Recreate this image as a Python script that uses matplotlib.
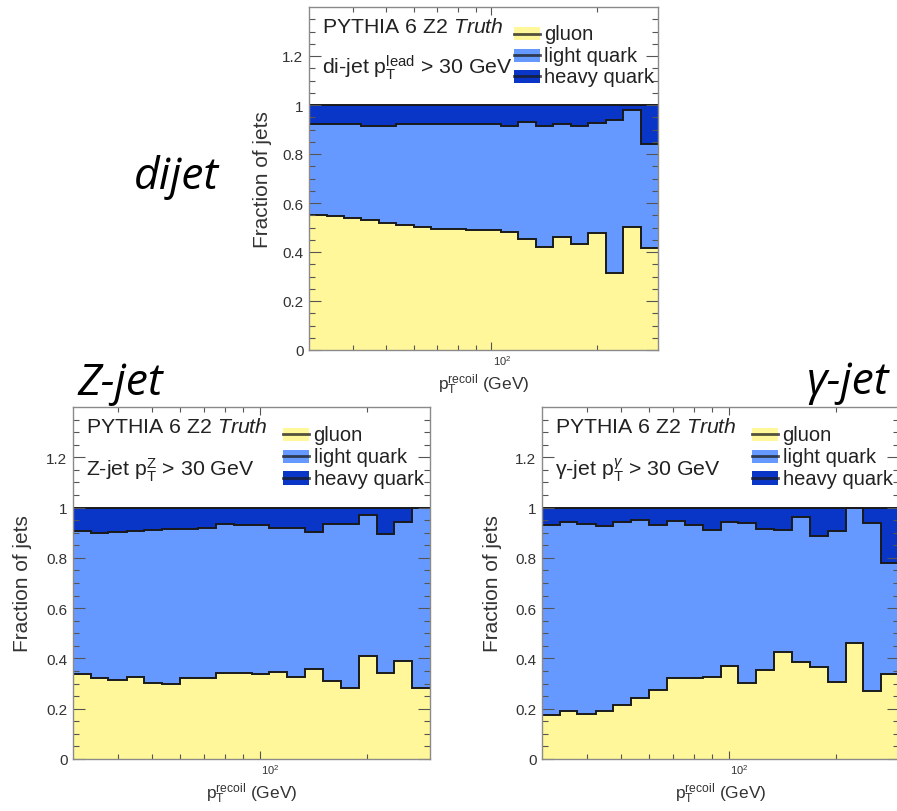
import numpy as np
import matplotlib
matplotlib.use('Agg')
import matplotlib.pyplot as plt
from matplotlib.patches import Rectangle
from matplotlib.lines import Line2D
from matplotlib.ticker import FixedLocator, NullFormatter
import matplotlib.transforms as mtransforms

plt.rcParams['font.family'] = ['Liberation Sans', 'DejaVu Sans']
plt.rcParams['mathtext.fontset'] = 'custom'
plt.rcParams['mathtext.rm'] = 'Liberation Sans'
plt.rcParams['mathtext.it'] = 'Liberation Sans:italic'
plt.rcParams['mathtext.bf'] = 'Liberation Sans:bold'

# ---------------- data ----------------
bin_edges = [30.0, 33.7, 37.7, 42.4, 47.5, 53.3, 59.9, 67.2, 75.4, 84.6, 94.9,
             106.5, 119.5, 134.1, 150.5, 168.9, 189.5, 212.6, 238.6, 267.7, 300.0]

# cumulative stack tops: gluon, gluon+light, gluon+light+heavy (=1)
dijet_gluon = [0.551, 0.547, 0.537, 0.529, 0.520, 0.512, 0.503, 0.493, 0.492, 0.490,
               0.489, 0.480, 0.455, 0.419, 0.462, 0.432, 0.478, 0.314, 0.503, 0.418]
dijet_light = [0.922, 0.922, 0.922, 0.915, 0.915, 0.922, 0.922, 0.922, 0.922, 0.922,
               0.922, 0.913, 0.929, 0.915, 0.922, 0.915, 0.926, 0.939, 0.979, 0.840]

zjet_gluon = [0.337, 0.323, 0.314, 0.327, 0.304, 0.298, 0.321, 0.321, 0.343, 0.343,
              0.340, 0.345, 0.328, 0.356, 0.311, 0.282, 0.409, 0.344, 0.388, 0.282]
zjet_light = [0.906, 0.900, 0.902, 0.907, 0.910, 0.913, 0.915, 0.919, 0.933, 0.929,
              0.929, 0.919, 0.919, 0.903, 0.934, 0.934, 0.972, 0.896, 0.942, 1.000]

gjet_gluon = [0.176, 0.192, 0.179, 0.192, 0.216, 0.242, 0.275, 0.321, 0.321, 0.327,
              0.369, 0.304, 0.353, 0.427, 0.386, 0.364, 0.308, 0.463, 0.269, 0.337]
gjet_light = [0.929, 0.942, 0.933, 0.926, 0.942, 0.952, 0.931, 0.946, 0.929, 0.910,
              0.942, 0.939, 0.915, 0.910, 0.963, 0.886, 0.906, 1.000, 0.937, 0.778]

total = [1.0] * 20

categories = ['gluon', 'light quark', 'heavy quark']
yticks = [0, 0.2, 0.4, 0.6, 0.8, 1.0, 1.2]
ytick_labels = ['0', '0.2', '0.4', '0.6', '0.8', '1', '1.2']

panels = [
    dict(name='dijet', gluon=dijet_gluon, light=dijet_light,
         sel=r'di-jet $\mathrm{p}_{\mathrm{T}}^{\mathrm{lead}}$ > 30 GeV'),
    dict(name='Z-jet', gluon=zjet_gluon, light=zjet_light,
         sel=r'Z-jet $\mathrm{p}_{\mathrm{T}}^{\mathrm{Z}}$ > 30 GeV'),
    dict(name='γ-jet', gluon=gjet_gluon, light=gjet_light,
         sel=r'γ-jet $\mathrm{p}_{\mathrm{T}}^{\gamma}$ > 30 GeV'),
]

# ---------------- style ----------------
C_GLUON = '#fff799'
C_LIGHT = '#6699ff'
C_HEAVY = '#0a36c8'
C_LINE = '#1a1a1a'
colors = [C_GLUON, C_LIGHT, C_HEAVY]

W, H = 897, 812
fig = plt.figure(figsize=(W / 100, H / 100), dpi=100)


def px_axes(l, r, t, b):
    return fig.add_axes([l / W, 1 - b / H, (r - l) / W, (b - t) / H])


def draw_panel(ax, p):
    edges = np.array(bin_edges)
    tops = [p['gluon'], p['light'], total]
    for vals, col in zip(tops[::-1], colors[::-1]):
        ax.stairs(vals, edges, baseline=0, fill=True, color=col, lw=0)
    for vals in tops:
        ax.stairs(vals, edges, baseline=None, color=C_LINE, lw=1.4)

    ax.set_xscale('log')
    ax.set_xlim(30, 300)
    ax.set_ylim(0, 1.4)
    ax.xaxis.set_major_locator(FixedLocator([100]))
    ax.xaxis.set_minor_locator(FixedLocator([40, 50, 60, 70, 80, 90, 200]))
    ax.xaxis.set_major_formatter(NullFormatter())
    ax.xaxis.set_minor_formatter(NullFormatter())
    ax.set_yticks(yticks)
    ax.set_yticklabels(ytick_labels)
    ax.yaxis.set_minor_locator(FixedLocator(np.arange(0.05, 1.4, 0.05)))
    ax.tick_params(axis='both', which='both', direction='in', top=True, right=True,
                   color='#555555', width=0.8)
    ax.tick_params(axis='y', which='major', length=8.5, labelsize=11,
                   labelcolor='#333333', pad=4)
    ax.tick_params(axis='y', which='minor', length=4.5)
    ax.tick_params(axis='x', which='major', length=6)
    ax.tick_params(axis='x', which='minor', length=3.5)
    for s in ax.spines.values():
        s.set_color('#8a8a8a')
        s.set_linewidth(1.0)

    hpx = ax.get_position().height * H
    trans = mtransforms.blended_transform_factory(ax.transData, ax.transAxes)
    ax.text(101, -15 / hpx, r'$10^{2}$', transform=trans, fontsize=8,
            ha='left', va='baseline', color='#333333')
    ax.text(0.5, -34 / hpx, r'$\mathrm{p}_{\mathrm{T}}^{\mathrm{recoil}}$ (GeV)',
            transform=ax.transAxes, fontsize=12.5, ha='center', va='center',
            color='#333333')

    ax.text(0.036, 0.928, r'PYTHIA 6 Z2 $\mathit{Truth}$', transform=ax.transAxes,
            fontsize=15.3, ha='left', va='baseline', color='#222222')
    ax.text(0.036, 0.807, p['sel'], transform=ax.transAxes,
            fontsize=15.3, ha='left', va='baseline', color='#222222')

    # legend (filled box with dark line through centre)
    ys = [0.922, 0.860, 0.798]
    for yc, col, lab in zip(ys, colors, categories):
        ax.add_patch(Rectangle((0.588, yc - 0.019), 0.074, 0.038, transform=ax.transAxes,
                               facecolor=col, edgecolor='none', clip_on=False))
        ax.add_line(Line2D([0.588, 0.662], [yc, yc], transform=ax.transAxes,
                           color=C_LINE, lw=2.0, alpha=0.75))
        ax.text(0.674, yc, lab, transform=ax.transAxes, fontsize=14.5,
                ha='left', va='center', color='#222222')


ax_d = px_axes(309, 658, 8, 351)
ax_z = px_axes(73, 430, 408, 760)
ax_g = px_axes(542, 899, 408, 760)

ylab_off = {0: -47, 1: -51, 2: -50}
for i, (ax, p) in enumerate(zip([ax_d, ax_z, ax_g], panels)):
    draw_panel(ax, p)
    wpx = ax.get_position().width * W
    ax.text(ylab_off[i] / wpx, 0.5, 'Fraction of jets', transform=ax.transAxes,
            rotation=90, fontsize=15, ha='center', va='center', color='#333333')

# big process labels
big = dict(fontsize=32, style='italic', family=['Open Sans', 'DejaVu Sans'], color='black',
           ha='left', va='baseline')
fig.text(134 / W, 1 - 189 / H, 'dijet', **big)
fig.text(77 / W, 1 - 395 / H, 'Z-jet', **big)
fig.text(806 / W, 1 - 394 / H, 'γ-jet', **big)

fig.savefig('out.png', dpi=100, facecolor='white')
